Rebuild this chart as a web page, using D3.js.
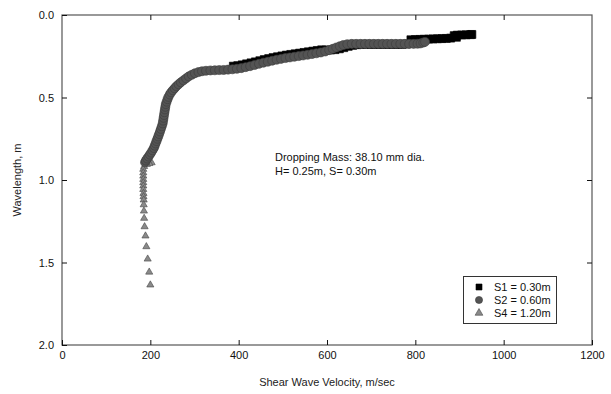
<!DOCTYPE html>
<html>
<head>
<meta charset="utf-8">
<script src="https://cdn.jsdelivr.net/npm/d3@7"></script>
<style>
  body { margin: 0; background: #fff; }
  svg text { font-family: "Liberation Sans", Arial, sans-serif; }
</style>
</head>
<body>
<svg id="chart" width="611" height="394"></svg>
<script>
// velocity (m/sec), wavelength (m)
const s1 = [
  [388,0.31],[398,0.307],[408,0.302],[418,0.296],[428,0.29],[438,0.284],[448,0.277],
  [458,0.27],[468,0.264],[478,0.258],[488,0.253],[498,0.248],[508,0.243],[518,0.239],
  [528,0.235],[538,0.231],[548,0.227],[558,0.223],[568,0.219],[578,0.215],[588,0.211],
  [598,0.212],[608,0.212],[618,0.21],[628,0.205],[638,0.198],[648,0.19],[658,0.184],
  [668,0.18],[678,0.178],[690,0.178],[700,0.178],[710,0.178],[720,0.178],[730,0.178],
  [740,0.178],[750,0.178],[760,0.178],[770,0.178],[780,0.176],
  [790,0.15],[800,0.149],[810,0.148],[820,0.147],[830,0.146],[840,0.145],[850,0.144],
  [860,0.143],[870,0.142],[880,0.14],[888,0.125],[893,0.135],[895,0.122],[905,0.121],
  [915,0.12],[925,0.119],[928,0.118]
];

const s2 = [
  [188,0.893],[190,0.882],[193,0.87],[196,0.858],[199,0.846],[202,0.834],[205,0.82],
  [208,0.806],[210,0.792],[212,0.778],[214,0.764],[216,0.75],[218,0.736],[220,0.721],
  [222,0.706],[224,0.69],[226,0.674],[228,0.657],[229,0.64],[230,0.623],[231,0.606],
  [232,0.589],[233,0.572],[234,0.556],[235,0.54],[237,0.525],[239,0.51],[241,0.496],
  [244,0.482],[247,0.469],[251,0.456],[255,0.444],[259,0.432],[264,0.42],[269,0.408],
  [275,0.396],[281,0.384],[287,0.372],[294,0.362],[301,0.353],[309,0.346],[317,0.341],
  [326,0.338],[336,0.336],[346,0.335],[356,0.334],[366,0.333],[376,0.331],[386,0.329],
  [396,0.326],[406,0.322],[416,0.316],[426,0.31],[436,0.303],[446,0.296],[456,0.289],
  [466,0.283],[476,0.277],[486,0.271],[496,0.266],[506,0.261],[516,0.257],[526,0.253],
  [536,0.249],[546,0.245],[556,0.241],[566,0.237],[576,0.232],[586,0.227],[596,0.221],
  [605,0.213],[613,0.205],[621,0.197],[629,0.189],[637,0.182],[646,0.177],[656,0.175],
  [666,0.175],[676,0.175],[686,0.175],[696,0.175],[706,0.175],[716,0.175],[726,0.175],
  [736,0.175],[746,0.175],[756,0.175],[766,0.175],[776,0.175],[786,0.175],[796,0.175],
  [805,0.174],[812,0.172],[818,0.167],[822,0.163]
];

const s4 = [
  [203,0.895],[198,0.9],[192,0.905],[186,0.918],[184,0.935],[184,0.956],[184,0.976],
  [184,0.996],[184,1.016],[184,1.036],[184,1.057],[184.5,1.081],[184.5,1.101],[185,1.121],
  [185,1.15],[185.5,1.188],[186,1.232],[187,1.283],[189,1.339],[191,1.404],[194,1.479],
  [197.5,1.558],[200,1.636]
];

const legendLabels = ["S1 = 0.30m", "S2 = 0.60m", "S4 = 1.20m"];
const xTicks = [0, 200, 400, 600, 800, 1000, 1200];
const yTicks = [0, 0.5, 1.0, 1.5, 2.0];
const noteLines = ["Dropping Mass: 38.10 mm dia.", "H= 0.25m, S= 0.30m"];

const svg = d3.select("#chart");
const plotL = 62, plotR = 592, plotT = 15, plotB = 345;

const x = d3.scaleLinear().domain([0, 1200]).range([plotL, plotR]);
const y = d3.scaleLinear().domain([0, 2]).range([plotT, plotB]);

// frame
svg.append("rect")
  .attr("x", plotL).attr("y", plotT)
  .attr("width", plotR - plotL).attr("height", plotB - plotT)
  .attr("fill", "none").attr("stroke", "#555").attr("stroke-width", 1.2);

const styleAxis = g => {
  g.select(".domain").remove();
  g.selectAll(".tick line").attr("stroke", "#111");
  g.selectAll(".tick text").attr("fill", "#111").style("font-size", "11px")
    .style("font-family", "'Liberation Sans', Arial, sans-serif");
};

svg.append("g").attr("transform", `translate(0,${plotB})`)
  .call(d3.axisBottom(x).tickValues(xTicks).tickSizeInner(-5).tickSizeOuter(0).tickPadding(6).tickFormat(d3.format("d")))
  .call(styleAxis);
svg.append("g").attr("transform", `translate(0,${plotT})`)
  .call(d3.axisTop(x).tickValues(xTicks.slice(1, -1)).tickSizeInner(-5).tickSizeOuter(0).tickFormat(""))
  .call(styleAxis);
svg.append("g").attr("transform", `translate(${plotL},0)`)
  .call(d3.axisLeft(y).tickValues(yTicks).tickSizeInner(-5).tickSizeOuter(0).tickPadding(8).tickFormat(d3.format(".1f")))
  .call(styleAxis);
svg.append("g").attr("transform", `translate(${plotR},0)`)
  .call(d3.axisRight(y).tickValues(yTicks.slice(1, -1)).tickSizeInner(-5).tickSizeOuter(0).tickFormat(""))
  .call(styleAxis);

// axis titles
svg.append("text")
  .attr("x", (plotL + plotR) / 2).attr("y", 386)
  .attr("text-anchor", "middle").style("font-size", "11px").attr("fill", "#222")
  .text("Shear Wave Velocity, m/sec");
svg.append("text")
  .attr("transform", `translate(21,${(plotT + plotB) / 2}) rotate(-90)`)
  .attr("text-anchor", "middle").style("font-size", "11px").attr("fill", "#222")
  .text("Wavelength, m");

// series
const markers = [
  { data: s1, type: d3.symbolSquare, size: 64, fill: "#000", stroke: "#000" },
  { data: s4, type: d3.symbolTriangle, size: 22, fill: "#8a8a8a", stroke: "#444" },
  { data: s2, type: d3.symbolCircle, size: 64, fill: "#545454", stroke: "#3c3c3c" }
];

markers.forEach(m => {
  svg.append("g").selectAll("path")
    .data(m.data).enter().append("path")
    .attr("transform", d => `translate(${x(d[0])},${y(d[1])})`)
    .attr("d", d3.symbol(m.type, m.size))
    .attr("fill", m.fill).attr("stroke", m.stroke).attr("stroke-width", 0.6);
});

// note
svg.append("g").selectAll("text")
  .data(noteLines).enter().append("text")
  .attr("x", 275).attr("y", (d, i) => 161 + i * 14)
  .style("font-size", "11px").attr("fill", "#111")
  .text(d => d);

// legend
const leg = svg.append("g");
leg.append("rect")
  .attr("x", 463.5).attr("y", 276.5).attr("width", 93).attr("height", 47)
  .attr("fill", "#fff").attr("stroke", "#333").attr("stroke-width", 1);
const legSyms = [
  { type: d3.symbolSquare, size: 36, fill: "#000", stroke: "#000" },
  { type: d3.symbolCircle, size: 40, fill: "#545454", stroke: "#3c3c3c" },
  { type: d3.symbolTriangle, size: 26, fill: "#8a8a8a", stroke: "#444" }
];
legendLabels.forEach((lab, i) => {
  const cy = 287 + i * 13;
  leg.append("path")
    .attr("transform", `translate(479,${cy})`)
    .attr("d", d3.symbol(legSyms[i].type, legSyms[i].size))
    .attr("fill", legSyms[i].fill).attr("stroke", legSyms[i].stroke).attr("stroke-width", 0.6);
  leg.append("text")
    .attr("x", 494).attr("y", cy + 4)
    .style("font-size", "11px").attr("fill", "#111")
    .text(lab);
});
</script>
</body>
</html>
